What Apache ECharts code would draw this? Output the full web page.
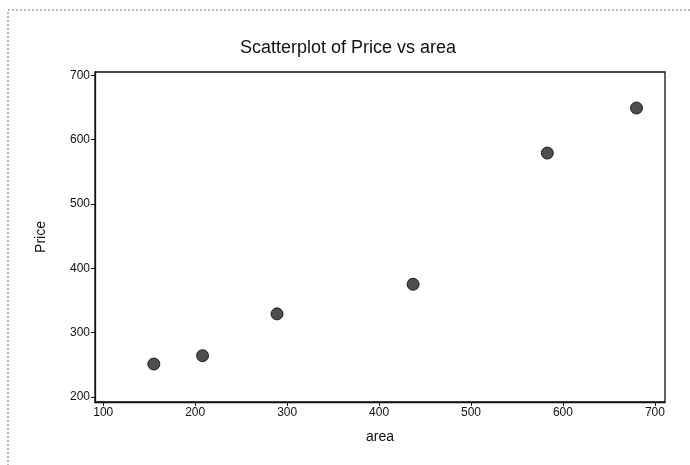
<!DOCTYPE html>
<html>
<head>
<meta charset="utf-8">
<title>Scatterplot of Price vs area</title>
<script src="https://cdn.jsdelivr.net/npm/echarts@6/dist/echarts.min.js"></script>
<style>
  html, body { margin: 0; padding: 0; background: #fff; }
  #chart { width: 690px; height: 465px; }
</style>
</head>
<body>
<div id="chart"></div>
<script>
// data
var area = [155, 208, 289, 437, 583, 680];
var price = [251, 264, 329, 375, 579, 649];
var xTicks = [100, 200, 300, 400, 500, 600, 700];
var yTicks = [200, 300, 400, 500, 600, 700];

var points = area.map(function (a, i) { return [a, price[i]]; });
var font = "'Liberation Sans', Arial, sans-serif";

var chart = echarts.init(document.getElementById("chart"));
chart.setOption({
  animation: false,
  backgroundColor: "#fff",
  title: {
    text: "Scatterplot of Price vs area",
    left: 343,
    textAlign: "center",
    top: 34,
    textStyle: { fontFamily: font, fontSize: 18, fontWeight: "normal", color: "#111" }
  },
  graphic: [
    {
      // faint frame of the scanned page
      type: "rect",
      shape: { x: 8, y: 10, width: 700, height: 500 },
      style: { fill: "none", stroke: "#777", lineWidth: 1, lineDash: [2, 2] },
      silent: true
    }
  ],
  grid: {
    left: 95,
    right: 25,
    top: 72,
    bottom: 63,
    show: true,
    borderColor: "#111",
    borderWidth: 1.3,
    backgroundColor: "#fff"
  },
  xAxis: {
    type: "value",
    min: 91,
    max: 711,
    name: "area",
    nameLocation: "middle",
    nameGap: 28,
    nameTextStyle: { fontFamily: font, fontSize: 14, color: "#111" },
    splitLine: { show: false },
    axisLine: { show: true, lineStyle: { color: "#111", width: 1.3 } },
    axisTick: { show: true, length: 4, customValues: xTicks, lineStyle: { color: "#111" } },
    axisLabel: { customValues: xTicks, margin: 5, fontFamily: font, fontSize: 12, color: "#111" }
  },
  yAxis: {
    type: "value",
    min: 192,
    max: 705,
    name: "Price",
    nameLocation: "middle",
    nameRotate: 90,
    nameGap: 47,
    nameTextStyle: { fontFamily: font, fontSize: 14, color: "#111" },
    splitLine: { show: false },
    axisLine: { show: true, lineStyle: { color: "#111", width: 1.3 } },
    axisTick: { show: true, length: 4, customValues: yTicks, lineStyle: { color: "#111" } },
    axisLabel: { customValues: yTicks, margin: 5, fontFamily: font, fontSize: 12, color: "#111" }
  },
  series: [
    {
      type: "scatter",
      data: points,
      symbol: "circle",
      symbolSize: 12,
      itemStyle: { color: "#222", borderColor: "#000", borderWidth: 1 }
    }
  ]
});
</script>
</body>
</html>
